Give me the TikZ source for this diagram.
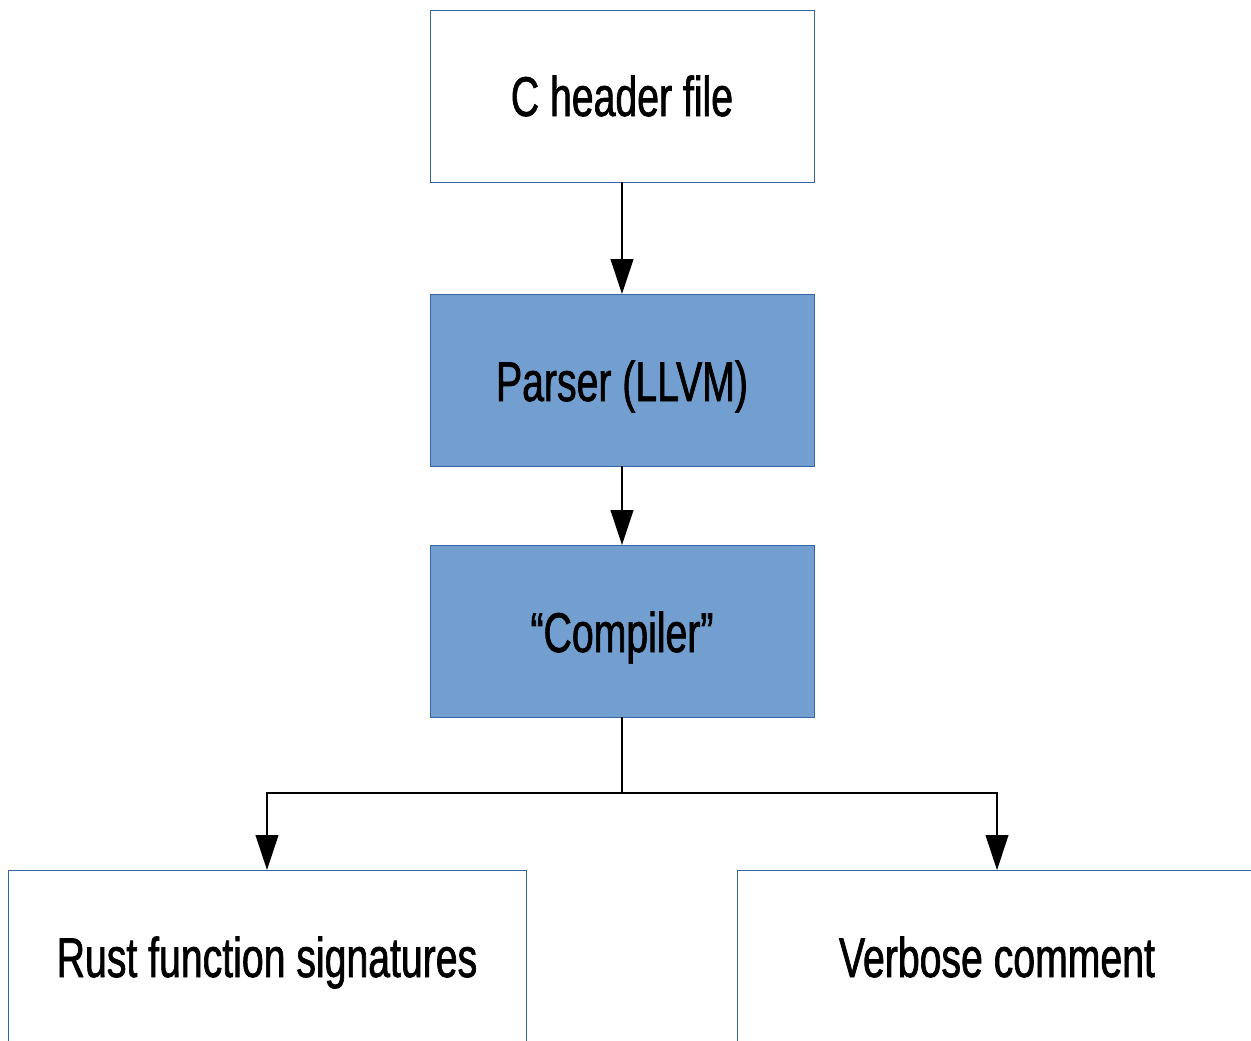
\documentclass[tikz,border=0pt]{standalone}
\usepackage{fontspec}
\setmainfont{Liberation Sans}[FakeStretch=0.70,FakeBold=1.2]
\usetikzlibrary{arrows.meta}
\definecolor{boxline}{HTML}{3465A4}
\definecolor{boxfill}{HTML}{729FCF}
\tikzset{
  x=1pt,y=-1pt,
  plain/.style={draw=boxline,line width=0.8pt,fill=white},
  filled/.style={draw=boxline,line width=0.8pt,fill=boxfill},
  lbl/.style={font=\fontsize{56}{60}\selectfont,inner sep=0pt,anchor=base},
  conn/.style={draw=black,line width=1.1pt,-{Triangle[width=23pt,length=35pt]}},
  seg/.style={draw=black,line width=1.1pt}
}
\begin{document}
\begin{tikzpicture}
\useasboundingbox (0,0) rectangle (1251,1041);
\clip (0,0) rectangle (1251,1041);
\fill[white] (0,0) rectangle (1251,1041);
\draw[plain] (430,10) rectangle (814,182);
\node[lbl] (c) at (622,116) {C header file};
\coordinate (cb) at (622,182);
\draw[filled] (430,294) rectangle (814,466);
\node[lbl] (p) at (622,401) {Parser (LLVM)};
\coordinate (pt) at (622,294);
\coordinate (pb) at (622,466);
\draw[filled] (430,545) rectangle (814,717);
\node[lbl] (k) at (622,652) {“Compiler”};
\coordinate (kt) at (622,545);
\coordinate (kb) at (622,717);
\coordinate (j) at (622,793);
\draw[plain] (8,870) rectangle (526,1045);
\node[lbl] (r) at (267,977) {Rust function signatures};
\coordinate (rt) at (267,870);
\draw[plain] (737,870) rectangle (1256,1045);
\node[lbl] (v) at (997,977) {Verbose comment};
\coordinate (vt) at (997,870);
\draw[conn] (cb) -- (pt);
\draw[conn] (pb) -- (kt);
\draw[seg] (kb) -- (j);
\draw[conn] (j) -| (rt);
\draw[conn] (j) -| (vt);
\end{tikzpicture}
\end{document}
